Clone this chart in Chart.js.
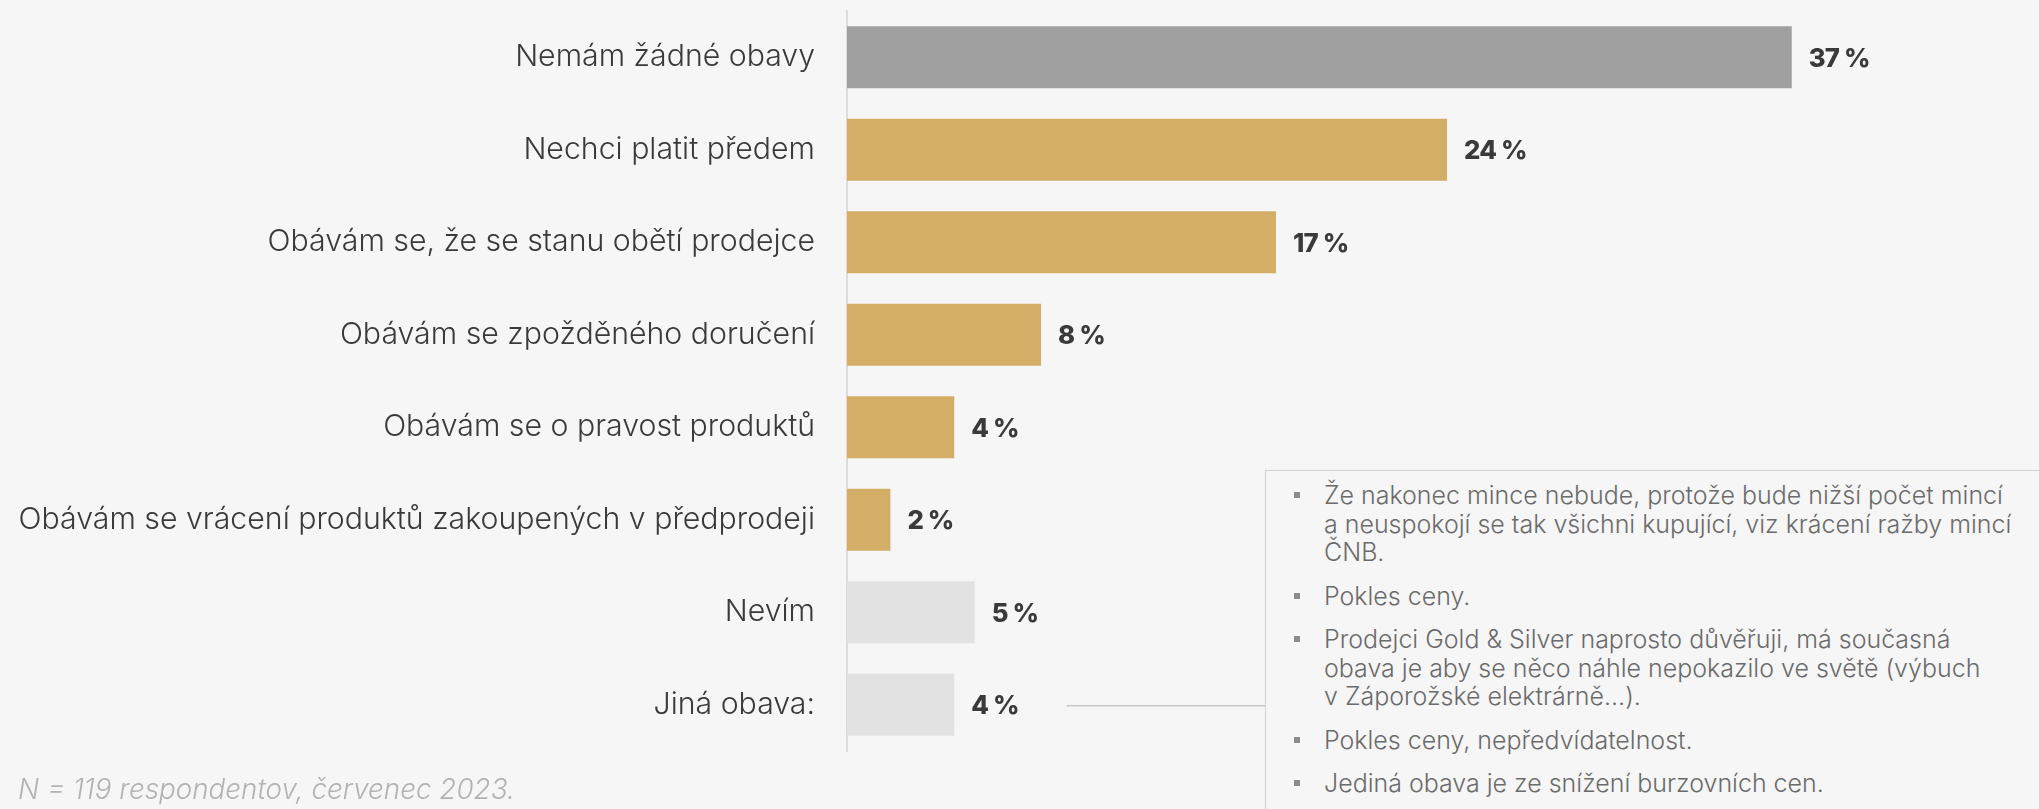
<!DOCTYPE html>
<html>
<head>
<meta charset="utf-8">
<script src="https://cdn.jsdelivr.net/npm/chart.js@4.4.0/dist/chart.umd.min.js"></script>
<style>
  html, body { margin: 0; padding: 0; background: #f6f6f6; overflow: hidden; }
  #wrap { position: absolute; left: 0; top: 0; width: 2039px; height: 809px; }
  #note {
    position: absolute; left: 1265px; top: 470px; width: 820px; height: 400px;
    border: 1.5px solid #d0d0d0; box-sizing: border-box; background: #f6f6f6;
  }
  #note ul { list-style: none; margin: 0; padding: 10px 0 0 58px; }
  #note li { position: relative; color: #6b6b6b; line-height: 28.5px; margin-bottom: 15px; white-space: nowrap; }
  #note li::before {
    content: ""; position: absolute; left: -30px; top: 11px; width: 6px; height: 6px; background: #8c8c8c;
  }
  #note li span { display: block; }
  #foot { position: absolute; left: 18px; top: 772px; color: #b3b3b3; font-style: italic; white-space: nowrap; }
</style>
</head>
<body>
<div id="wrap"><canvas id="chart"></canvas></div>
<div id="note"><ul id="noteList"></ul></div>
<div id="foot"></div>
<script>
const categories = [
  "Nemám žádné obavy",
  "Nechci platit předem",
  "Obávám se, že se stanu obětí prodejce",
  "Obávám se zpožděného doručení",
  "Obávám se o pravost produktů",
  "Obávám se vrácení produktů zakoupených v předprodeji",
  "Nevím",
  "Jiná obava:"
];
const shares = [37.0, 23.5, 16.8, 7.6, 4.2, 1.7, 5.0, 4.2];
const barColors = ["#a0a0a0", "#d4ad67", "#d4ad67", "#d4ad67", "#d4ad67", "#d4ad67", "#e2e2e2", "#e2e2e2"];

const otherConcerns = [
  ["Že nakonec mince nebude, protože bude nižší počet mincí",
   "a neuspokojí se tak všichni kupující, viz krácení ražby mincí",
   "ČNB."],
  ["Pokles ceny."],
  ["Prodejci Gold & Silver naprosto důvěřuji, má současná",
   "obava je aby se něco náhle nepokazilo ve světě (výbuch",
   "v Záporožské elektrárně...)."],
  ["Pokles ceny, nepředvídatelnost."],
  ["Jediná obava je ze snížení burzovních cen."]
];
const footnote = "N = 119 respondentov, červenec 2023.";

const FONT = "Inter, 'Open Sans', sans-serif";
const NOTE_LEFT = 1265;

// size the fonts so the text widths match the original layout
function fitSize(text, weight, target, spacing) {
  const c = document.createElement("canvas").getContext("2d");
  c.font = weight + " 100px " + FONT;
  let w = c.measureText(text).width;
  return 100 * (target - (spacing || 0) * text.length) / w;
}
const labelSize = fitSize(categories[5], "300", 797);
const valueSize = fitSize("37 %", "800", 61, -0.8);
const noteSize = fitSize(otherConcerns[0][0], "300", 679);
const footSize = fitSize(footnote, "italic 300", 497);

const list = document.getElementById("noteList");
list.style.font = "300 " + noteSize + "px " + FONT;
otherConcerns.forEach((lines) => {
  const li = document.createElement("li");
  lines.forEach((t) => {
    const s = document.createElement("span");
    s.textContent = t;
    li.appendChild(s);
  });
  list.appendChild(li);
});
const foot = document.getElementById("foot");
foot.textContent = footnote;
foot.style.font = "italic 300 " + footSize + "px " + FONT;

const valueLabels = {
  id: "valueLabels",
  afterDatasetsDraw(chart) {
    const ctx = chart.ctx;
    const bars = chart.getDatasetMeta(0).data;
    ctx.save();
    ctx.font = "800 " + valueSize + "px " + FONT;
    ctx.letterSpacing = "-0.8px";
    ctx.fillStyle = "#3a3a3a";
    ctx.textBaseline = "middle";
    ctx.textAlign = "left";
    let lastEnd = 0;
    bars.forEach((bar, i) => {
      const txt = Math.round(shares[i]) + " %";
      ctx.fillText(txt, bar.x + 17, bar.y + 2);
      lastEnd = bar.x + 17 + ctx.measureText(txt).width;
    });
    // connector from "Jiná obava" to the box with answers
    const last = bars[bars.length - 1];
    ctx.strokeStyle = "#c8c8c8";
    ctx.lineWidth = 1.5;
    ctx.beginPath();
    ctx.moveTo(lastEnd + 48, last.y + 1);
    ctx.lineTo(NOTE_LEFT, last.y + 1);
    ctx.stroke();
    ctx.restore();
  }
};

new Chart(document.getElementById("chart"), {
  type: "bar",
  data: {
    labels: categories,
    datasets: [{
      data: shares,
      backgroundColor: barColors,
      borderWidth: 0,
      barPercentage: 0.67,
      categoryPercentage: 1
    }]
  },
  options: {
    indexAxis: "y",
    responsive: true,
    maintainAspectRatio: false,
    animation: false,
    layout: { padding: { top: 11, bottom: 58, left: 0, right: 43 } },
    plugins: { legend: { display: false }, tooltip: { enabled: false } },
    scales: {
      x: { display: false, min: 0, max: 45 },
      y: {
        afterFit: (s) => {
          s.width = 847;
          s.paddingTop = 0;
          s.paddingBottom = 0;
        },
        grid: { display: false, drawTicks: false },
        border: { display: true, color: "#dcdcdc", width: 2 },
        ticks: {
          padding: 32,
          color: "#3a3a3a",
          font: { family: FONT, size: labelSize, weight: "300" }
        }
      }
    }
  },
  plugins: [valueLabels]
});
</script>
</body>
</html>
